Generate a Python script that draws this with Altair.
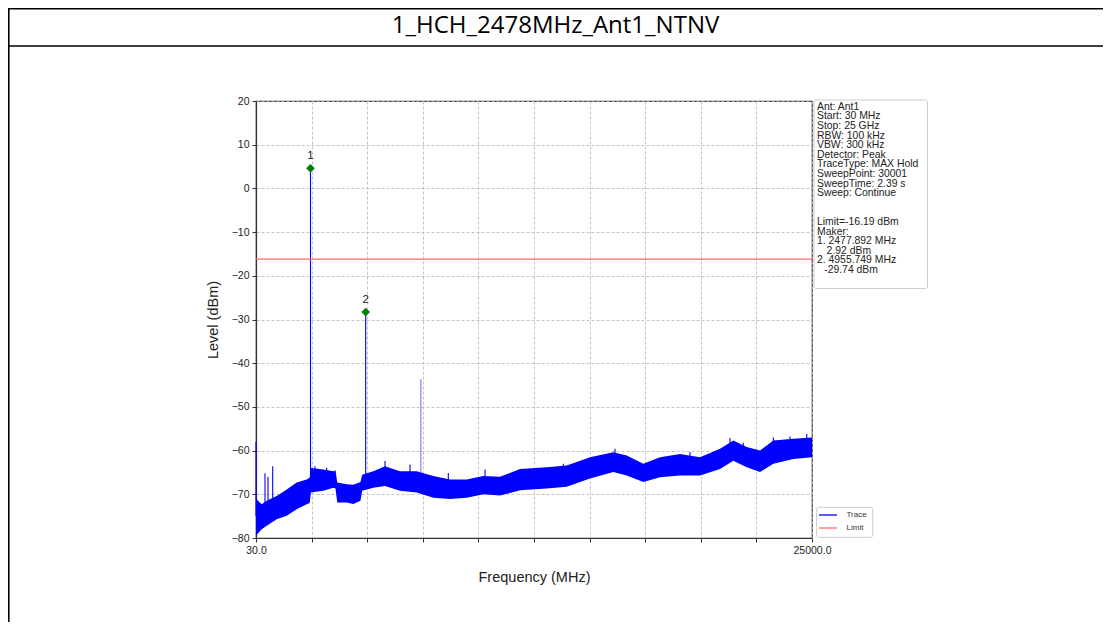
import altair as alt
import pandas as pd

# ---- data ----
title_text = "1_HCH_2478MHz_Ant1_NTNV"

band_freq = [30, 286, 511, 960, 1409, 1858, 2307, 2440, 2500, 3052, 3502, 3600, 3680,
             4103, 4400, 4720, 4800, 5298, 5823, 6497, 7247, 7993, 8743, 9492, 10238,
             10988, 11886, 13085, 13983, 15030, 16077, 16679, 17424, 18174, 19072,
             19970, 20869, 21467, 22068, 22666, 23264, 24162, 25000]
band_upper = [-71.0, -72.3, -71.5, -70.4, -68.9, -67.3, -66.6, -66.2, -64.0, -64.3, -64.7, -64.5, -67.3,
              -67.7, -67.8, -67.2, -65.5, -64.7, -63.6, -64.7, -64.7, -65.8, -66.6, -66.6, -65.8,
              -66.0, -64.2, -63.8, -63.4, -61.5, -60.4, -61.1, -63.0, -61.5, -60.8,
              -61.5, -59.6, -57.7, -59.2, -60.0, -57.7, -57.3, -57.0]
band_lower = [-79.5, -78.0, -77.2, -75.7, -74.9, -73.4, -72.3, -72.0, -69.6, -69.2, -68.5, -68.7, -71.9,
              -71.9, -72.2, -71.5, -69.2, -68.5, -68.1, -69.2, -69.6, -70.8, -71.1, -70.8, -70.0,
              -70.3, -69.1, -68.7, -68.3, -66.4, -64.9, -65.7, -67.2, -66.1, -65.7,
              -65.7, -64.2, -62.3, -63.8, -64.9, -63.0, -61.9, -61.5]

spike_freq = [30, 434, 569, 780, 2478, 2680, 3205, 4956, 5823, 6946, 7434, 8667, 10315,
              13831, 16153, 19521, 21317, 21915, 23264, 24012, 24762]
spike_base = [-75.0, -72.0, -72.0, -71.0, -66.0, -65.0, -65.0, -66.0, -64.5, -65.0, -65.0, -67.0, -66.0,
              -64.0, -61.0, -61.5, -58.5, -60.0, -58.5, -58.0, -58.0]
spike_top = [-58.0, -65.2, -66.0, -63.6, 4.6, -63.6, -63.9, -28.3, -62.4, -63.2, -43.6, -65.1, -64.3,
             -63.0, -59.6, -60.3, -57.1, -58.2, -57.0, -56.8, -56.2]
spike_alpha = [1, 1, 1, 1, 1, 1, 1, 1, 1, 1, 0.55, 1, 1, 1, 1, 1, 1, 1, 1, 1, 1]

marker_freq = [2477.892, 4955.749]
marker_level = [4.6, -28.3]
marker_label = ["1", "2"]

limit_level = -16.19

x_ticks = [30, 2527, 5024, 7521, 10018, 12515, 15012, 17509, 20006, 22503, 25000]
y_ticks = [-80, -70, -60, -50, -40, -30, -20, -10, 0, 10, 20]

info_lines = ["Ant: Ant1", "Start: 30 MHz", "Stop: 25 GHz", "RBW: 100 kHz", "VBW: 300 kHz",
              "Detector: Peak", "TraceType: MAX Hold", "SweepPoint: 30001", "SweepTime: 2.39 s",
              "Sweep: Continue", "", "", "Limit=-16.19 dBm", "Maker:",
              "1. 2477.892 MHz", "    2.92 dBm",
              "2. 4955.749 MHz", "   -29.74 dBm"]

series_names = ["Trace", "Limit"]
series_colors = ["#0000ff", "#ff6b6b"]

# ---- tables ----
band_df = pd.DataFrame({"freq": band_freq, "upper": band_upper, "lower": band_lower})
spike_df = pd.DataFrame({"freq": spike_freq, "base": spike_base, "top": spike_top,
                         "alpha": spike_alpha, "series": "Trace"})
marker_df = pd.DataFrame({"freq": marker_freq, "level": marker_level, "label": marker_label})
limit_df = pd.DataFrame({"level": [limit_level], "series": ["Limit"]})
one = pd.DataFrame({"k": [0]})
info_df = pd.DataFrame({"txt": info_lines, "idx": list(range(len(info_lines)))})
info_df = info_df[info_df["txt"] != ""]
legend_df = pd.DataFrame({"series": series_names, "idx": list(range(len(series_names)))})
title_df = pd.DataFrame({"txt": [title_text]})

FONT = "Liberation Sans"
xscale = alt.Scale(domain=[30, 25000], nice=False, zero=False)
yscale = alt.Scale(domain=[-80, 20], nice=False, zero=False)
cscale = alt.Scale(domain=series_names, range=series_colors)

x_axis = alt.Axis(values=x_ticks, title="Frequency (MHz)",
                  labelExpr="datum.value == 30 ? '30.0' : (datum.value == 25000 ? '25000.0' : '')",
                  labelFlush=False, labelOverlap=False, titlePadding=15)
y_axis = alt.Axis(values=y_ticks, title="Level (dBm)", format="d", titlePadding=11)

# decorations (page table + title)
top_border = alt.Chart(one).mark_rule(color="black", strokeWidth=1.6).encode(
    x=alt.value(-248), x2=alt.value(855), y=alt.value(-92.2))
row_border = alt.Chart(one).mark_rule(color="black", strokeWidth=1.6).encode(
    x=alt.value(-248), x2=alt.value(855), y=alt.value(-55))
left_border = alt.Chart(one).mark_rule(color="black", strokeWidth=1.6).encode(
    x=alt.value(-247.2), y=alt.value(-93), y2=alt.value(530))
title_mark = alt.Chart(title_df).mark_text(font="Open Sans", fontSize=24, color="black",
                                           align="center", baseline="middle").encode(
    text="txt:N", x=alt.value(299.5), y=alt.value(-75.5))

band = alt.Chart(band_df).mark_area(color="#0000ff", opacity=1).encode(
    x=alt.X("freq:Q", scale=xscale, axis=x_axis),
    y=alt.Y("upper:Q", scale=yscale, axis=y_axis),
    y2="lower:Q")

spikes = alt.Chart(spike_df).mark_rule(strokeWidth=1.1).encode(
    x="freq:Q", y="base:Q", y2="top:Q",
    opacity=alt.Opacity("alpha:Q", scale=None, legend=None),
    color=alt.Color("series:N", scale=cscale, legend=None))

limit = alt.Chart(limit_df).mark_rule(strokeWidth=1.2).encode(
    y="level:Q", color=alt.Color("series:N", scale=cscale, legend=None))

markers = alt.Chart(marker_df).mark_point(shape="diamond", filled=True, color="#008000",
                                          size=75, opacity=1).encode(
    x="freq:Q", y="level:Q")
marker_text = alt.Chart(marker_df).mark_text(font=FONT, fontSize=11.5, color="#222",
                                             dy=-12).encode(
    x="freq:Q", y="level:Q", text="label:N")

# info box
info_box = alt.Chart(one).mark_rect(fill="white", stroke="#cccccc", strokeWidth=1,
                                    cornerRadius=2).encode(
    x=alt.value(558), x2=alt.value(671.5), y=alt.value(-1), y2=alt.value(187.5))
info_text = alt.Chart(info_df).transform_calculate(
    py="5.8 + datum.idx * 9.6",
    px="561 + (length(datum.txt) - length(trim(datum.txt))) * 2.4",
    shown="trim(datum.txt)"
).mark_text(font=FONT, fontSize=10.4, align="left", baseline="middle", color="#222").encode(
    text="shown:N", x=alt.X("px:Q", scale=None, axis=None), y=alt.Y("py:Q", scale=None, axis=None))

# legend box (Trace / Limit)
legend_box = alt.Chart(one).mark_rect(fill="white", stroke="#cccccc", strokeWidth=1,
                                      cornerRadius=2).encode(
    x=alt.value(560.7), x2=alt.value(616.7), y=alt.value(406.3), y2=alt.value(436.3))
legend_lines = alt.Chart(legend_df).transform_calculate(
    py="414 + datum.idx * 13"
).mark_rule(strokeWidth=1.3).encode(
    x=alt.value(563), x2=alt.value(581), y=alt.Y("py:Q", scale=None, axis=None),
    color=alt.Color("series:N", scale=cscale, legend=None))
legend_text = alt.Chart(legend_df).transform_calculate(
    py="414 + datum.idx * 13"
).mark_text(font=FONT, fontSize=8, align="left", baseline="middle", color="#333").encode(
    text="series:N", x=alt.value(590.5), y=alt.Y("py:Q", scale=None, axis=None))

chart = alt.layer(
    top_border, row_border, left_border, title_mark,
    band, spikes, limit, markers, marker_text, info_box, info_text,
    legend_box, legend_lines, legend_text
).properties(
    width=556, height=437,
    autosize=alt.AutoSizeParams(type="none"),
    padding={"left": 248, "top": 93, "right": 291, "bottom": 84},
    background="white",
).configure_view(
    stroke="#333333", strokeWidth=1.2
).configure_axis(
    labelFont=FONT, labelFontSize=10.5, labelColor="#222",
    titleFont=FONT, titleFontSize=14.5, titleColor="#222", titleFontWeight="normal",
    tickColor="#333333", tickSize=4, domainColor="#333333", domainWidth=1.2,
    grid=True, gridColor="#b5b5b5", gridDash=[3, 2], gridWidth=0.8, labelPadding=3,
)

chart.save("out.html", embed_options={"renderer": "svg", "actions": False})
